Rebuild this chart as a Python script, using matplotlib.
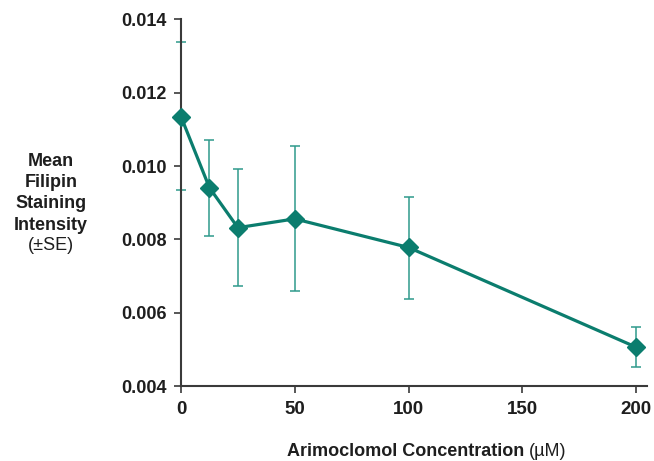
import matplotlib
matplotlib.use("Agg")
import matplotlib.pyplot as plt
import numpy as np

plt.rcParams['font.family'] = ['Liberation Sans', 'DejaVu Sans']

concentration = [0, 12.5, 25, 50, 100, 200]
mean_intensity = [0.01135, 0.00941, 0.00832, 0.00856, 0.00778, 0.00506]
upper_bound = [0.01338, 0.01072, 0.00992, 0.01055, 0.00917, 0.00561]
lower_bound = [0.00935, 0.00808, 0.00673, 0.00658, 0.00637, 0.00452]
x_ticks = [0, 50, 100, 150, 200]
y_ticks = [0.004, 0.006, 0.008, 0.010, 0.012, 0.014]

line_color = '#0b7d6e'
err_color = '#2f9a8c'
text_color = '#1e1e1e'
axis_color = '#3a3a3a'

fig = plt.figure(figsize=(6.54, 4.61), dpi=100)
ax = fig.add_axes([181/654, 1-386/461, (647-181)/654, (386-19.5)/461])

m = np.array(mean_intensity)
yerr = np.array([m - np.array(lower_bound), np.array(upper_bound) - m])
ax.errorbar(concentration, mean_intensity, yerr=yerr, fmt='none',
            ecolor=err_color, elinewidth=1.1, capsize=3.5, capthick=1.1,
            zorder=2, clip_on=False)
ax.plot(concentration, mean_intensity, color=line_color, lw=2.3,
        marker='D', markersize=9.5, markerfacecolor=line_color,
        markeredgecolor=line_color, zorder=3, clip_on=False)

ax.set_xlim(0, 204.8)
ax.set_ylim(0.004, 0.014)
ax.set_xticks(x_ticks)
ax.set_yticks(y_ticks)
ax.set_xticklabels([str(v) for v in x_ticks])
ax.set_yticklabels([f"{v:.3f}" for v in y_ticks])
for lab in ax.get_yticklabels():
    lab.set_fontweight('bold')
    lab.set_fontsize(13)
    lab.set_color(text_color)
for lab in ax.get_xticklabels():
    lab.set_fontweight('bold')
    lab.set_fontsize(13.5)
    lab.set_color(text_color)

for s in ['top', 'right']:
    ax.spines[s].set_visible(False)
for s in ['left', 'bottom']:
    ax.spines[s].set_color(axis_color)
    ax.spines[s].set_linewidth(1.5)
ax.tick_params(axis='both', direction='out', length=5, width=1.2,
               color=axis_color)
ax.tick_params(axis='y', pad=5)
ax.tick_params(axis='x', pad=6)

ylines = [("Mean", 166, 'bold'), ("Filipin", 187, 'bold'),
          ("Staining", 208, 'bold'), ("Intensity", 230, 'bold'),
          ("(\u00b1SE)", 250, 'normal')]
for txt, yy, w in ylines:
    fig.text(51/654, 1-yy/461, txt, ha='center', va='baseline',
             fontsize=13, fontweight=w, color=text_color)

fig.text(524/654, 1-456/461, "Arimoclomol Concentration", ha='right',
         va='baseline', fontsize=13, fontweight='bold', color=text_color)
fig.text(529/654, 1-456/461, "(\u00b5M)", ha='left', va='baseline',
         fontsize=13, fontweight='normal', color=text_color)

fig.savefig('out.png', dpi=100)
